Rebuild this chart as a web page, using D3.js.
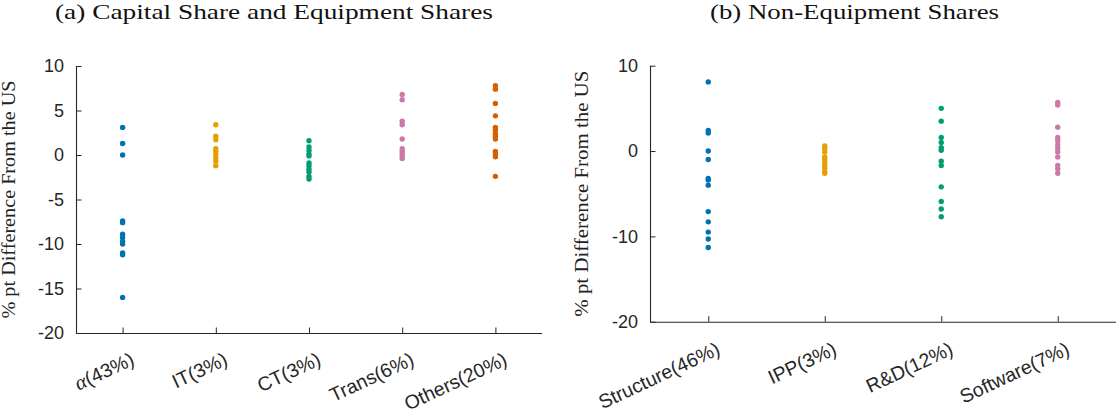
<!DOCTYPE html>
<html>
<head>
<meta charset="utf-8">
<script src="https://cdn.jsdelivr.net/npm/d3@7"></script>
<style>
  html, body { margin: 0; padding: 0; background: #fff; }
  svg { display: block; }
</style>
</head>
<body>
<svg id="chart" width="1116" height="414"></svg>
<script>
// ---------- data ----------
const leftTitle = "(a) Capital Share and Equipment Shares";
const rightTitle = "(b) Non-Equipment Shares";
const yLabel = "% pt Difference From the US";

const leftCategories = ["α(43%)", "IT(3%)", "CT(3%)", "Trans(6%)", "Others(20%)"];
const alphaVals  = [3.1, 1.3, 0, -7.4, -7.6, -8.9, -9.3, -9.7, -10.0, -11.0, -11.2, -16.0];
const itVals     = [3.4, 2.1, 1.7, 0.7, 0.4, 0.1, -0.3, -0.7, -1.2];
const ctVals     = [1.6, 0.9, 0.5, 0.1, -0.1, -0.9, -1.2, -1.6, -1.9, -2.4, -2.7];
const transVals  = [6.8, 6.2, 3.8, 3.4, 1.8, 0.7, 0.4, 0.1, -0.1, -0.4];
const othersVals = [7.8, 7.4, 5.8, 4.4, 3.1, 2.8, 2.4, 2.1, 1.8, 0.4, 0.1, -0.2, -2.4];
const leftTicks = [10, 5, 0, -5, -10, -15, -20];

const rightCategories = ["Structure(46%)", "IPP(3%)", "R&D(12%)", "Software(7%)"];
const structureVals = [8.1, 2.4, 2.1, 0, -1.0, -3.2, -3.4, -4.0, -7.1, -8.3, -9.5, -10.3, -11.3];
const ippVals       = [0.6, 0.3, -0.1, -0.7, -1.0, -1.4, -1.7, -2.0, -2.4, -2.6];
const rdVals        = [5.0, 3.5, 1.6, 1.0, 0.4, 0.1, -1.2, -1.7, -4.2, -5.9, -6.8, -7.7];
const softwareVals  = [5.7, 5.4, 2.8, 1.6, 1.2, 0.7, 0.3, -0.1, -0.7, -1.7, -2.1, -2.6];
const rightTicks = [10, 0, -10, -20];

const palette = ["#0072B2", "#E69F00", "#009E73", "#CC79A7", "#D55E00"];

// ---------- drawing ----------
const svg = d3.select("#chart");
const axisColor = "#262626";
const tickFont = "'Liberation Sans', Arial, Helvetica, sans-serif";
const serifFont = "'Liberation Serif', 'Times New Roman', serif";

function panel(opts) {
  const g = svg.append("g");
  const x = d3.scaleLinear().domain([0.5, opts.categories.length + 0.5]).range([opts.x0, opts.x1]);
  const y = d3.scaleLinear().domain([-20, 10]).range([opts.yBot, opts.yTop]);

  // title
  g.append("text")
    .attr("x", opts.titleX).attr("y", 19)
    .attr("text-anchor", "middle")
    .attr("font-family", serifFont)
    .attr("font-size", 22)
    .attr("fill", "#111")
    .attr("textLength", opts.titleLen)
    .attr("lengthAdjust", "spacingAndGlyphs")
    .text(opts.title);

  // y label
  g.append("text")
    .attr("transform", `translate(${opts.yLabelX},${(opts.yTop + opts.yBot) / 2}) rotate(-90)`)
    .attr("text-anchor", "middle")
    .attr("font-family", serifFont)
    .attr("font-size", 18.5)
    .attr("fill", "#222")
    .attr("textLength", opts.yLabelLen)
    .attr("lengthAdjust", "spacingAndGlyphs")
    .text(yLabel);

  // y axis
  const yAxis = d3.axisLeft(y).tickValues(opts.yTicks).tickSize(-5.5).tickPadding(12)
    .tickFormat(d => d3.format("d")(d).replace("−", "-"));
  const ya = g.append("g").attr("transform", `translate(${opts.x0},0)`).call(yAxis);
  ya.select(".domain").attr("stroke", axisColor).attr("stroke-width", 1.1)
    .attr("d", `M0.5,${opts.yBot}V${opts.yTop}`);
  ya.selectAll(".tick line").attr("stroke", axisColor).attr("stroke-width", 1);
  ya.selectAll(".tick text").attr("font-family", tickFont).attr("font-size", 18)
    .attr("fill", axisColor).attr("x", -12);

  // x axis
  const xAxis = d3.axisBottom(x).tickValues(d3.range(1, opts.categories.length + 1))
    .tickSize(-5.5).tickFormat("");
  const xa = g.append("g").attr("transform", `translate(0,${opts.yBot})`).call(xAxis);
  xa.select(".domain").attr("stroke", axisColor).attr("stroke-width", 1.1)
    .attr("d", `M${opts.x0},0.5H${opts.x1}`);
  xa.selectAll(".tick line").attr("stroke", axisColor).attr("stroke-width", 1);

  // rotated tick labels
  opts.categories.forEach((c, i) => {
    const t = g.append("text")
      .attr("transform", `translate(${x(i + 1) + 7},${opts.yBot + opts.labelDy}) rotate(-25)`)
      .attr("text-anchor", "end")
      .attr("dy", "0.74em")
      .attr("font-family", tickFont)
      .attr("font-size", 19.5)
      .attr("fill", axisColor);
    if (c.startsWith("α")) {
      t.append("tspan").attr("font-family", serifFont).attr("font-style", "italic")
        .attr("font-size", 21).text("α");
      t.append("tspan").text(c.slice(1));
    } else {
      t.text(c);
    }
  });

  // points
  opts.series.forEach((vals, i) => {
    g.append("g").selectAll("circle").data(vals).join("circle")
      .attr("cx", x(i + 1))
      .attr("cy", d => y(d))
      .attr("r", 2.7)
      .attr("fill", palette[i]);
  });
}

panel({
  title: leftTitle, titleX: 274, titleLen: 438,
  yLabelX: 15, yLabelLen: 238,
  categories: leftCategories,
  series: [alphaVals, itVals, ctVals, transVals, othersVals],
  yTicks: leftTicks,
  x0: 76, x1: 542, yTop: 66, yBot: 333, labelDy: 18
});

panel({
  title: rightTitle, titleX: 854.5, titleLen: 289,
  yLabelX: 588, yLabelLen: 246,
  categories: rightCategories,
  series: [structureVals, ippVals, rdVals, softwareVals],
  yTicks: rightTicks,
  x0: 650, x1: 1116, yTop: 65.7, yBot: 321.7, labelDy: 19
});
</script>
</body>
</html>
